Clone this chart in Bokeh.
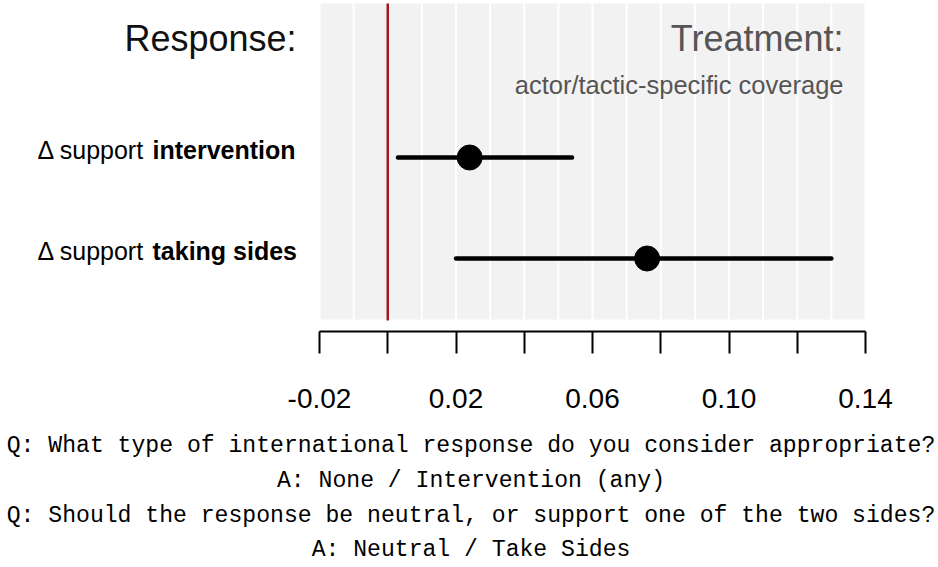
from bokeh.plotting import figure
from bokeh.models import Range1d, LinearAxis, FixedTicker
from bokeh.layouts import column
from bokeh.core.properties import value
from bokeh.embed import file_html
from bokeh.resources import INLINE

# ---------------- data ----------------
row_idx = [1, 2]
label_regular = ["\u0394 support", "\u0394 support"]
label_bold = ["intervention", "taking sides"]
estimates = [0.024, 0.076]
ci_low = [0.003, 0.020]
ci_high = [0.054, 0.130]
x_ticks = [-0.02, 0.0, 0.02, 0.04, 0.06, 0.08, 0.10, 0.12, 0.14]
tick_labels = ["-0.02", "", "0.02", "", "0.06", "", "0.10", "", "0.14"]
grid_x = [-0.01, 0.0, 0.01, 0.02, 0.03, 0.04, 0.05, 0.06, 0.07, 0.08, 0.09, 0.10, 0.11, 0.12, 0.13]
title_left = "Response:"
title_right = "Treatment:"
subtitle_right = "actor/tactic-specific coverage"
notes = [
    "Q: What type of international response do you consider appropriate?",
    "A: None / Intervention (any)",
    "Q: Should the response be neutral, or support one of the two sides?",
    "A: Neutral / Take Sides",
]

# ---------------- layout helpers ----------------
W = 936
TOP_H, BOT_H = 425, 140
AX_L, AX_R, FRAME_B = 319, 865, 331
PX_PER_UNIT = (AX_R - AX_L) / 0.16


def xdat(px):
    return -0.02 + (px - AX_L) / PX_PER_UNIT


def ydat(py):
    return 1 + (py - 157) / 101.0


SANS = value("Liberation Sans")
MONO = value("Liberation Mono")
BASE_FIX = 0.33  # baseline compensation (em)

# ---------------- main plot ----------------
p = figure(width=W, height=TOP_H, x_range=Range1d(xdat(0), xdat(W)),
           y_range=Range1d(start=ydat(FRAME_B), end=ydat(0)),
           x_axis_type=None, y_axis_type=None, output_backend="svg", toolbar_location=None,
           min_border_left=0, min_border_right=0, min_border_top=0,
           min_border_bottom=TOP_H - FRAME_B)
p.outline_line_color = None
p.background_fill_color = "white"
p.border_fill_color = "white"

PANEL_TOP, PANEL_BOT = ydat(3), ydat(319)
p.quad(left=[-0.0197], right=[0.1397], top=[PANEL_TOP], bottom=[PANEL_BOT],
       fill_color="#F2F2F2", line_color=None)
p.segment(x0=grid_x, y0=[PANEL_TOP] * len(grid_x), x1=grid_x, y1=[PANEL_BOT] * len(grid_x),
          line_color="white", line_width=2)
p.segment(x0=[0.0], y0=[PANEL_TOP], x1=[0.0], y1=[ydat(320)], line_color="#A11A1A", line_width=2.5)
p.segment(x0=ci_low, y0=row_idx, x1=ci_high, y1=row_idx, line_color="black",
          line_width=4.5, line_cap="round")
p.scatter(x=estimates, y=row_idx, size=25, fill_color="black", line_color="black")

tx = xdat(843)
p.text(x=[tx], y=[ydat(50 - BASE_FIX * 36)], text=[title_right], text_align="right",
       text_baseline="alphabetic", text_font=SANS, text_font_size="36px",
       text_color="#555555")
p.text(x=[tx], y=[ydat(93 - BASE_FIX * 25.5)], text=[subtitle_right], text_align="right",
       text_baseline="alphabetic", text_font=SANS, text_font_size="25.5px",
       text_color="#555555")

p.text(x=[xdat(296)], y=[ydat(50 - BASE_FIX * 36)], text=[title_left], text_align="right",
       text_baseline="alphabetic", text_font=SANS, text_font_size="36px", text_color="#111111")
lab_y = [r + (1 - BASE_FIX * 25) / 101.0 for r in row_idx]
p.text(x=[xdat(144)] * 2, y=lab_y, text=label_regular, text_align="right",
       text_baseline="alphabetic", text_font=SANS, text_font_size="25px", text_color="black")
p.text(x=[xdat(152)] * 2, y=lab_y, text=label_bold, text_align="left",
       text_baseline="alphabetic", text_font=SANS, text_font_size="25px",
       text_font_style="bold", text_color="black")

ax = LinearAxis(ticker=FixedTicker(ticks=x_ticks), bounds=(-0.02, 0.14),
                major_label_overrides=dict(zip(x_ticks, tick_labels)))
ax.axis_line_width = 2
ax.axis_line_color = "black"
ax.major_tick_line_width = 2
ax.major_tick_line_color = "black"
ax.major_tick_out = 22
ax.major_tick_in = 0
ax.minor_tick_line_color = None
ax.major_label_standoff = 35
ax.major_label_text_font = "Liberation Sans"
ax.major_label_text_font_size = "28px"
ax.major_label_text_color = "black"
p.add_layout(ax, "below")

# ---------------- bottom notes ----------------
bottom = figure(width=W, height=BOT_H, x_range=Range1d(0, W), y_range=Range1d(BOT_H, 0),
                x_axis_type=None, y_axis_type=None, output_backend="svg", toolbar_location=None,
                min_border_left=0, min_border_right=0, min_border_top=0, min_border_bottom=0)
bottom.outline_line_color = None
bottom.border_fill_color = "white"
note_base = [453, 488.5, 523.5, 557.5]
bottom.text(x=[470.5] * 4, y=[b - TOP_H - BASE_FIX * 23.1 for b in note_base], text=notes,
            text_align="center", text_baseline="alphabetic", text_font=MONO,
            text_font_size="23.1px", text_color="black")

layout = column(p, bottom)
open("out.html", "w").write(file_html(layout, INLINE))
